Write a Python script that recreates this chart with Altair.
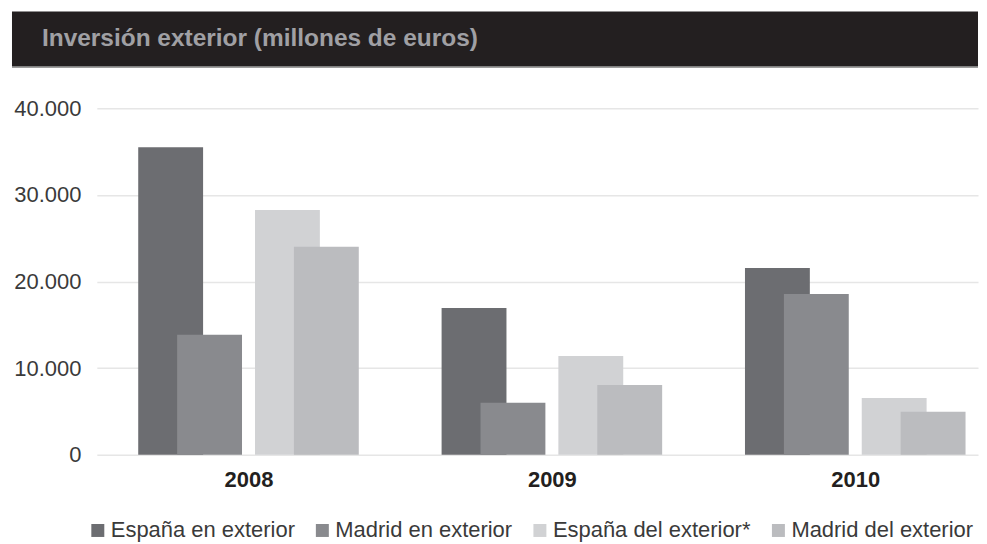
import json
import altair as alt
import pandas as pd

TITLE = "Inversión exterior (millones de euros)"
YEARS = ["2008", "2009", "2010"]
SERIES = ["España en exterior", "Madrid en exterior", "España del exterior*", "Madrid del exterior"]
ESPANA_EN_EXTERIOR = [35500, 16950, 21550]
MADRID_EN_EXTERIOR = [13850, 6000, 18550]
ESPANA_DEL_EXTERIOR = [28250, 11400, 6550]
MADRID_DEL_EXTERIOR = [24000, 8050, 4950]
COLORS = ["#6c6d71", "#898a8e", "#d1d2d4", "#bbbcbf"]
SLOTS = [-2, -1, 1, 2]
Y_TICKS = [0, 10000, 20000, 30000, 40000]

FONT = "Liberation Sans"
PLOT_W = 883

values = [ESPANA_EN_EXTERIOR, MADRID_EN_EXTERIOR, ESPANA_DEL_EXTERIOR, MADRID_DEL_EXTERIOR]
rows = []
for i, yr in enumerate(YEARS):
    for s, slot, vals in zip(SERIES, SLOTS, values):
        rows.append({"year": yr, "idx": i, "slot": slot, "serie": s, "value": vals[i]})
df = pd.DataFrame(rows)

year_expr = json.dumps(YEARS) + "[datum.value]"

bars = alt.Chart(df).transform_calculate(
    pos="datum.idx + datum.slot * 0.1283"
).mark_bar(size=65).encode(
    x=alt.X("pos:Q",
            scale=alt.Scale(domain=[-0.5, -0.5 + PLOT_W / 304.0], nice=False, zero=False,
                            padding=0),
            axis=alt.Axis(values=[0, 1, 2], labelExpr=year_expr, title=None, grid=False,
                          ticks=False, domain=False, labelFontSize=22, labelFontWeight="bold",
                          labelColor="#231f20", labelFont=FONT, labelPadding=15)),
    y=alt.Y("value:Q",
            scale=alt.Scale(domain=[0, 40000], nice=False, padding=0),
            axis=alt.Axis(values=Y_TICKS,
                          labelExpr="replace(format(datum.value, ','), ',', '.')",
                          title=None, ticks=False, domain=False, gridColor="#e6e6e6",
                          gridWidth=1.5, labelFontSize=22, labelColor="#3a3a3a",
                          labelFont=FONT, labelPadding=16)),
    color=alt.Color("serie:N", sort=SERIES,
                    scale=alt.Scale(domain=SERIES, range=COLORS),
                    legend=alt.Legend(title=None, orient="none", legendX=-10, legendY=412,
                                      direction="horizontal", columns=4, symbolType="square",
                                      symbolSize=169, symbolStrokeWidth=0, symbolOpacity=1,
                                      labelFontSize=22, labelColor="#3a3a3a", labelFont=FONT,
                                      labelOffset=2, columnPadding=16, padding=0, labelLimit=400)),
)

dummy = pd.DataFrame({"t": [TITLE]})

title_bar = alt.Chart(dummy).mark_rect(color="#231f20").encode(
    x=alt.value(-85), x2=alt.value(PLOT_W), y=alt.value(-97), y2=alt.value(-42)
)
title_rule = alt.Chart(dummy).mark_rule(color="#7d7d7d", strokeWidth=1.5).encode(
    x=alt.value(-85), x2=alt.value(PLOT_W), y=alt.value(-41.5)
)
title_text = alt.Chart(dummy).mark_text(
    align="left", baseline="alphabetic", fontSize=24.5, fontWeight="bold",
    color="#a0a0a4", font=FONT
).encode(text="t:N", x=alt.value(-55), y=alt.value(-62))

chart = alt.layer(title_bar, title_rule, title_text, bars).properties(
    width=PLOT_W, height=347,
    padding={"left": 3, "top": 3, "right": 0, "bottom": 0},
    background="white",
).configure_view(stroke=None)

chart.save("out.html", embed_options={"renderer": "svg", "actions": False})
